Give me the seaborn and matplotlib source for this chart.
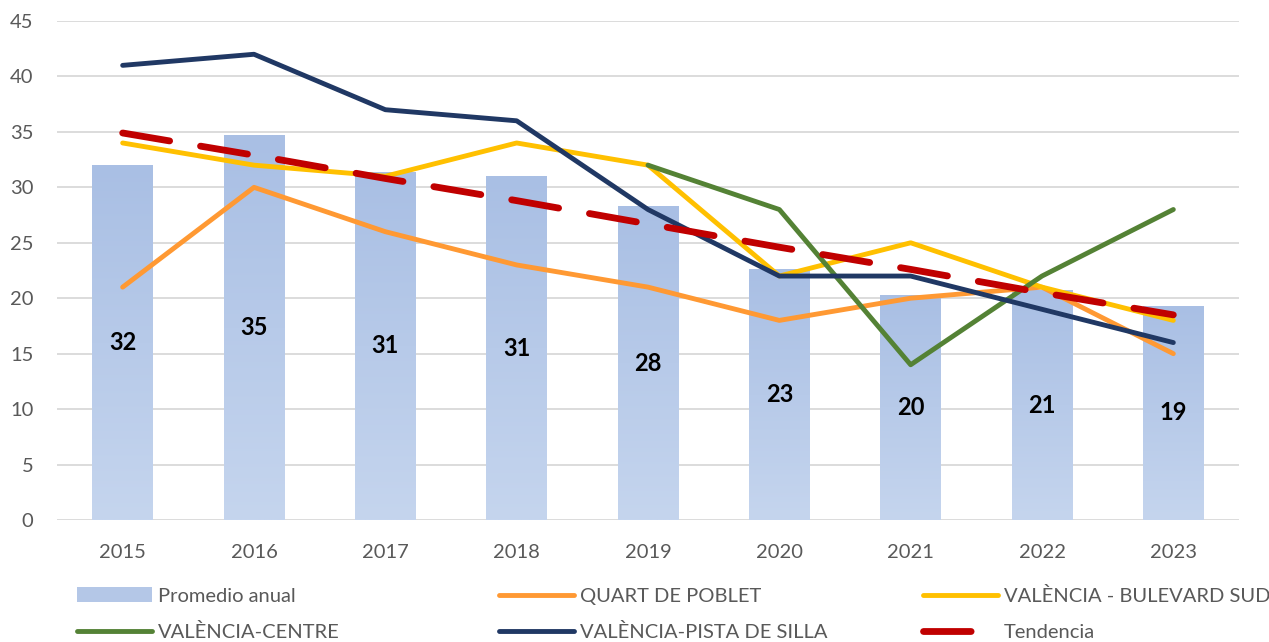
import numpy as np
import pandas as pd
import seaborn as sns
import matplotlib.pyplot as plt
from matplotlib.lines import Line2D
from matplotlib.patches import Patch
from matplotlib.colors import LinearSegmentedColormap

years = ['2015', '2016', '2017', '2018', '2019', '2020', '2021', '2022', '2023']
promedio = [32.0, 34.7, 31.4, 31.0, 28.3, 22.6, 20.3, 20.7, 19.3]
quart = [21, 30, 26, 23, 21, 18, 20, 21, 15]
bulevard = [34, 32, 31, 34, 32, 22, 25, 21, 18]
centre = [np.nan, np.nan, np.nan, np.nan, 32, 28, 14, 22, 28]
pista = [41, 42, 37, 36, 28, 22, 22, 19, 16]
tendencia = [34.9, 32.9, 30.8, 28.8, 26.7, 24.6, 22.6, 20.5, 18.5]
yticks = [0, 5, 10, 15, 20, 25, 30, 35, 40, 45]

stations = ['QUART DE POBLET', 'VALÈNCIA - BULEVARD SUD', 'VALÈNCIA-CENTRE', 'VALÈNCIA-PISTA DE SILLA']
colors = {'QUART DE POBLET': '#FF9933', 'VALÈNCIA - BULEVARD SUD': '#FFC000',
          'VALÈNCIA-CENTRE': '#548235', 'VALÈNCIA-PISTA DE SILLA': '#203864'}
red = '#C00000'
text_grey = '#595959'

lines = pd.DataFrame({
    'pos': list(range(len(years))) * 4,
    'value': quart + bulevard + centre + pista,
    'station': [s for s in stations for _ in years],
}).dropna()

sns.set_theme(style="white")
plt.rcParams['font.family'] = ['Lato', 'DejaVu Sans']

W, H = 1269, 642
fig = plt.figure(figsize=(W / 100, H / 100), dpi=100)
ax = fig.add_axes([57 / W, 1 - 520 / H, (1239 - 57) / W, (520 - 21) / H])

sns.barplot(x=years, y=promedio, color='#B4C7E7', width=0.46, ax=ax, zorder=2)

# gradient fill for the bars
cmap = LinearSegmentedColormap.from_list('bar', ['#C5D5EE', '#A9BFE4'])
grad = np.linspace(0, 1, 256).reshape(-1, 1)
for p in ax.patches:
    x0, y0 = p.get_x(), p.get_y()
    w, h = p.get_width(), p.get_height()
    im = ax.imshow(grad, cmap=cmap, origin='lower', aspect='auto',
                   extent=[x0, x0 + w, y0, y0 + h], zorder=2)
    im.set_clip_path(p)
    p.set_facecolor('none')
    p.set_edgecolor('none')

ax.bar_label(ax.containers[0], labels=[f'{v:.0f}' for v in promedio], label_type='center',
             fontsize=17, fontweight='bold', color='black', zorder=6)

lw = 3.5
sns.lineplot(data=lines, x='pos', y='value', hue='station', palette=colors,
             linewidth=lw, legend=False, ax=ax, zorder=4, solid_capstyle='round')
sns.lineplot(x=list(range(len(years))), y=tendencia, color=red, linewidth=4.9,
             linestyle=(0, (7.0, 4.6)), dash_capstyle='round', ax=ax, zorder=5)

ax.set_xlim(-0.5, len(years) - 0.5)
ax.set_ylim(0, 45)
ax.set_yticks(yticks)
ax.set_xlabel('')
ax.set_ylabel('')
ax.yaxis.grid(True, color='#D9D9D9', linewidth=1.3, zorder=0)
ax.set_axisbelow(True)
for s in ax.spines.values():
    s.set_visible(False)
ax.tick_params(axis='both', length=0, labelsize=14.5, labelcolor=text_grey)
ax.tick_params(axis='y', pad=17)
ax.tick_params(axis='x', pad=17)

# legend, one entry per position
bar_handle = Patch(facecolor='#B4C7E7', edgecolor='none')
handles = [
    (bar_handle, 'Promedio anual', 77, 596),
    (Line2D([], [], color=colors['QUART DE POBLET'], lw=lw, solid_capstyle='round'), 'QUART DE POBLET', 499, 596),
    (Line2D([], [], color=colors['VALÈNCIA - BULEVARD SUD'], lw=lw, solid_capstyle='round'), 'VALÈNCIA - BULEVARD SUD', 923, 596),
    (Line2D([], [], color=colors['VALÈNCIA-CENTRE'], lw=lw, solid_capstyle='round'), 'VALÈNCIA-CENTRE', 77, 632),
    (Line2D([], [], color=colors['VALÈNCIA-PISTA DE SILLA'], lw=lw, solid_capstyle='round'), 'VALÈNCIA-PISTA DE SILLA', 499, 632),
    (Line2D([], [], color=red, lw=4.9, linestyle=(0, (7.0, 4.6)), dash_capstyle='round'), 'Tendencia', 923, 632),
]
for h, lab, x, y in handles:
    fig.legend([h], [lab], loc='center left', bbox_to_anchor=(x / W, 1 - y / H),
               frameon=False, borderpad=0, borderaxespad=0, handlelength=3.7,
               handleheight=0.75, handletextpad=0.3, fontsize=14.5, labelcolor=text_grey)

fig.savefig('out.png', dpi=100)
